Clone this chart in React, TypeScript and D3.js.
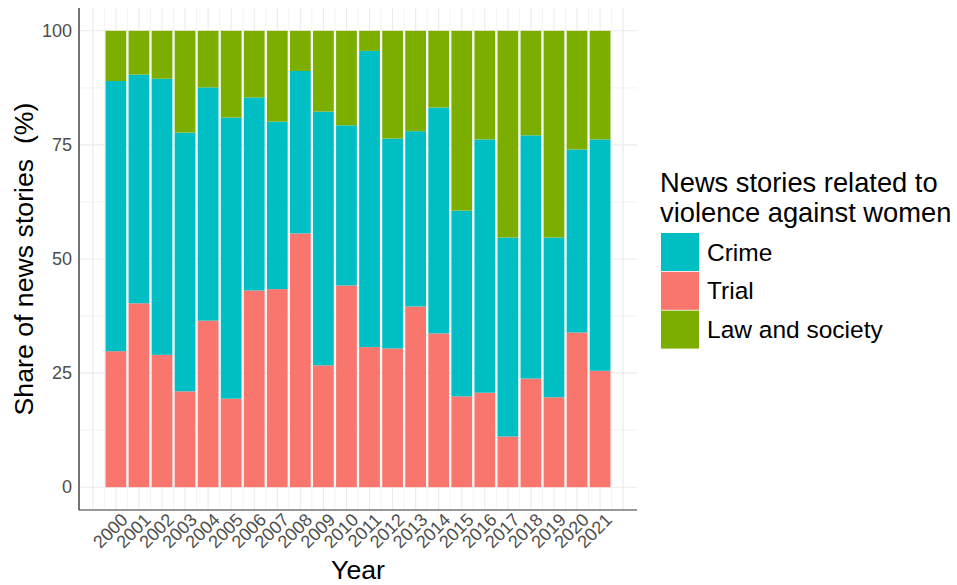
import React from "react";
import * as d3 from "d3";

const years = [2000,2001,2002,2003,2004,2005,2006,2007,2008,2009,2010,2011,2012,2013,2014,2015,2016,2017,2018,2019,2020,2021];
// shares (%)
const trial = [29.8,40.3,29.0,21.0,36.5,19.4,43.1,43.4,55.6,26.7,44.2,30.7,30.4,39.6,33.7,19.9,20.7,11.1,23.8,19.7,33.9,25.5];
const crime = [59.2,50.1,60.5,56.7,51.1,61.6,42.3,36.7,35.6,55.6,35.1,64.9,46.0,38.4,49.5,40.7,55.5,43.6,53.3,35.0,40.1,50.7];
const law =   [11.0,9.6,10.5,22.3,12.4,19.0,14.6,19.9,8.8,17.7,20.7,4.4,23.6,22.0,16.8,39.4,23.8,45.3,22.9,45.3,26.0,23.8];
const yTicks = [0,25,50,75,100];
const seriesNames = ["Trial","Crime","Law and society"];
const legendOrder = ["Crime","Trial","Law and society"];
const colors: Record<string,string> = { "Crime": "#00BFC4", "Trial": "#F8766D", "Law and society": "#7CAE00" };

export default function App() {
  const W = 957, H = 585;
  const left = 79, right = 637, top = 8, bottom = 510;
  const x = d3.scaleLinear().domain([1998.4, 2022.6]).range([left, right]);
  const y = d3.scaleLinear().domain([-5, 105]).range([bottom, top]);
  const bw = 0.9 * (x(2001) - x(2000));

  const rows = years.map((yr, i) => ({ year: yr, "Trial": trial[i], "Crime": crime[i], "Law and society": law[i] }));
  const stacked = d3.stack<any>().keys(seriesNames)(rows);

  const vGrid: number[] = d3.range(1999, 2022.01, 0.5);
  const hMajor = yTicks;
  const hMinor = [12.5, 37.5, 62.5, 87.5];
  const font = "Liberation Sans, Arial, Helvetica, sans-serif";

  return (
    <svg width={W} height={H} style={{ position: "absolute", left: 0, top: 0, background: "#fff" }} fontFamily={font}>
      <rect x={0} y={0} width={W} height={H} fill="#fff" />
      {hMinor.map(v => (
        <line key={"hm" + v} x1={left} x2={right} y1={y(v)} y2={y(v)} stroke="#EBEBEB" strokeWidth={0.6} />
      ))}
      {vGrid.map(v => (
        <line key={"v" + v} x1={x(v)} x2={x(v)} y1={top} y2={bottom} stroke="#EBEBEB" strokeWidth={Number.isInteger(v) ? 1.1 : 0.6} />
      ))}
      {hMajor.map(v => (
        <line key={"hM" + v} x1={left} x2={right} y1={y(v)} y2={y(v)} stroke="#EBEBEB" strokeWidth={1.1} />
      ))}
      {stacked.map(s => (
        <g key={s.key} fill={colors[s.key]}>
          {s.map((d, i) => (
            <rect key={i} x={x(years[i]) - bw / 2} width={bw} y={y(d[1])} height={y(d[0]) - y(d[1])} />
          ))}
        </g>
      ))}
      <line x1={left} x2={left} y1={top} y2={bottom} stroke="#000" strokeWidth={1.1} />
      <line x1={left} x2={right} y1={bottom} y2={bottom} stroke="#333" strokeWidth={1.1} />
      {yTicks.map(v => (
        <text key={"yt" + v} x={72} y={y(v)} dy="0.35em" textAnchor="end" fontSize={18} fill="#4D4D4D">{v}</text>
      ))}
      {years.map(yr => (
        <text key={"xt" + yr} transform={`translate(${x(yr) + 13},${521}) rotate(-45)`} textAnchor="end" fontSize={18} fill="#4D4D4D">{yr}</text>
      ))}
      <text x={(left + right) / 2} y={579} textAnchor="middle" fontSize={26.7} fill="#000">Year</text>
      <text transform={`translate(33,${(top + bottom) / 2}) rotate(-90)`} textAnchor="middle" fontSize={26.7} fill="#000" style={{ whiteSpace: "pre" }}>{"Share of news stories  (%)"}</text>
      <text x={660} y={192} fontSize={27.3} fill="#000">News stories related to</text>
      <text x={660} y={222} fontSize={27.3} fill="#000">violence against women</text>
      {legendOrder.map((k, i) => (
        <g key={k}>
          <rect x={661} y={233 + i * 38.8} width={38} height={38} fill={colors[k]} />
          <text x={707} y={233 + i * 38.8 + 19} dy="0.35em" fontSize={24.5} fill="#000">{k}</text>
        </g>
      ))}
    </svg>
  );
}
